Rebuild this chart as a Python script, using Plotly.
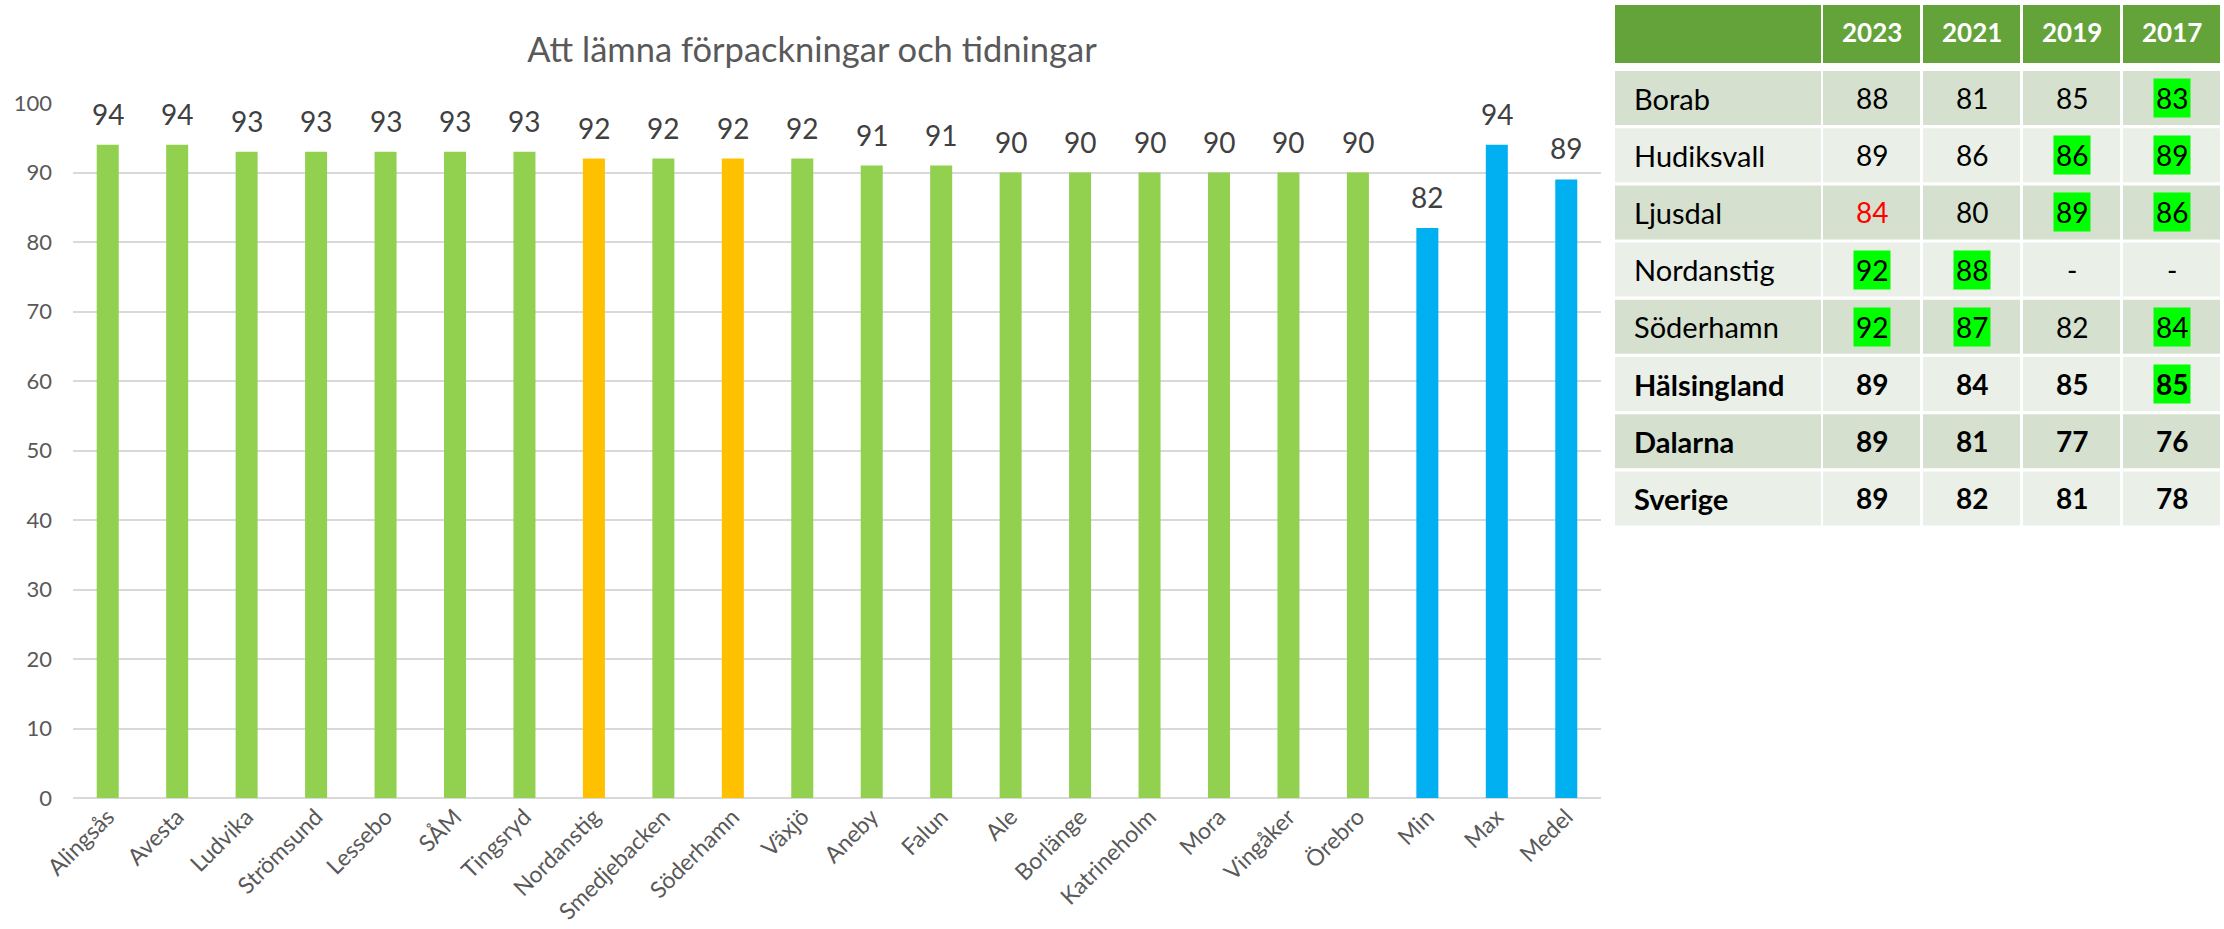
import plotly.graph_objects as go

# ---------------- data ----------------
categories = ["Alingsås", "Avesta", "Ludvika", "Strömsund", "Lessebo", "SÅM", "Tingsryd",
              "Nordanstig", "Smedjebacken", "Söderhamn", "Växjö", "Aneby", "Falun", "Ale",
              "Borlänge", "Katrineholm", "Mora", "Vingåker", "Örebro", "Min", "Max", "Medel"]
values = [94, 94, 93, 93, 93, 93, 93, 92, 92, 92, 92, 91, 91, 90, 90, 90, 90, 90, 90, 82, 94, 89]
groups = ["kommun"] * 7 + ["halsingland", "kommun", "halsingland"] + ["kommun"] * 9 + ["stat"] * 3

title_text = "Att lämna förpackningar och tidningar"

table_years = ["2023", "2021", "2019", "2017"]
table_rows = ["Borab", "Hudiksvall", "Ljusdal", "Nordanstig", "Söderhamn",
              "Hälsingland", "Dalarna", "Sverige"]
col_2023 = ["88", "89", "84", "92", "92", "89", "89", "89"]
col_2021 = ["81", "86", "80", "88", "87", "84", "81", "82"]
col_2019 = ["85", "86", "89", "-", "82", "85", "77", "81"]
col_2017 = ["83", "89", "86", "-", "84", "85", "76", "78"]
table_cols = [col_2023, col_2021, col_2019, col_2017]
# highlighted cells (row, col)
highlight = [(0, 3), (1, 2), (1, 3), (2, 2), (2, 3), (3, 0), (3, 1), (4, 0), (4, 1), (4, 3), (5, 3)]
red_cells = [(2, 0)]
bold_rows = ["Hälsingland", "Dalarna", "Sverige"]

# ---------------- style ----------------
W, H = 2224, 929
L, R, T, B = 73, 2224 - 1601, 103, 929 - 798
PW, PH = W - L - R, H - T - B
FONT = "Lato"
color_map = {"kommun": "#92D050", "halsingland": "#FFC000", "stat": "#00B0F0"}


def px(x):
    return (x - L) / PW


def py(y):
    return 1 - (y - T) / PH


fig = go.Figure()
fig.add_trace(go.Bar(
    x=categories, y=values,
    marker=dict(color=[color_map[g] for g in groups], line=dict(width=0)),
    hoverinfo="x+y",
))

annotations = []
for c, v in zip(categories, values):
    annotations.append(dict(x=c, y=v, xref="x", yref="y", text=str(v), showarrow=False,
                            yanchor="middle", yshift=31,
                            font=dict(family=FONT, size=28, color="#404040")))

# ---------------- table ----------------
shapes = []
label_x0, label_x1 = 1615, 1821
col_x0 = [1823, 1923, 2023, 2123]
col_w = 97
head_y0, head_y1 = 5, 63
row_y0, row_pitch, row_h = 71, 57.2, 54
header_color = "#64A33A"
band_dark, band_light = "#D5E0CE", "#EAEFE8"


def rect(x0, y0, x1, y1, color):
    shapes.append(dict(type="rect", xref="paper", yref="paper",
                       x0=px(x0), x1=px(x1), y0=py(y1), y1=py(y0),
                       fillcolor=color, line=dict(width=0), layer="below"))


rect(label_x0, head_y0, label_x1, head_y1, header_color)
for j, yr in enumerate(table_years):
    rect(col_x0[j], head_y0, col_x0[j] + col_w, head_y1, header_color)
    annotations.append(dict(x=px(col_x0[j] + col_w / 2), y=py((head_y0 + head_y1) / 2 - 2),
                            xref="paper", yref="paper", text="<b>%s</b>" % yr, showarrow=False,
                            xanchor="center", yanchor="middle",
                            font=dict(family=FONT, size=26, color="white")))

for i, name in enumerate(table_rows):
    y0 = row_y0 + i * row_pitch
    y1 = y0 + row_h
    yc = (y0 + y1) / 2
    fill = band_dark if i % 2 == 0 else band_light
    bold = name in bold_rows
    rect(label_x0, y0, label_x1, y1, fill)
    annotations.append(dict(x=px(1632), y=py(yc), xref="paper", yref="paper",
                            text=("<b>%s</b>" % name) if bold else name, showarrow=False,
                            xanchor="left", yanchor="middle",
                            font=dict(family=FONT, size=29, color="black")))
    for j in range(4):
        rect(col_x0[j], y0, col_x0[j] + col_w, y1, fill)
        val = table_cols[j][i]
        hl = (i, j) in highlight
        col = "#FF0000" if (i, j) in red_cells else "black"
        annotations.append(dict(x=px(col_x0[j] + col_w / 2), y=py(yc), xref="paper", yref="paper",
                                text=("<b>%s</b>" % val) if bold else val, showarrow=False,
                                xanchor="center", yanchor="middle",
                                bgcolor="#00FF00" if hl else None, borderpad=2,
                                font=dict(family=FONT, size=28, color=col)))

fig.update_layout(
    width=W, height=H,
    margin=dict(l=L, r=R, t=T, b=B, pad=0, autoexpand=False),
    paper_bgcolor="white", plot_bgcolor="white",
    bargap=0.683,
    showlegend=False,
    title=dict(text=title_text, x=812 / W, xanchor="center", xref="container",
               y=1 - 50 / H, yanchor="middle",
               font=dict(family=FONT, size=34.5, color="#595959")),
    xaxis=dict(tickangle=-45, tickfont=dict(family=FONT, size=23, color="#595959"),
               showgrid=False, ticks="", showline=False, zeroline=False, automargin=False),
    yaxis=dict(range=[0, 100], dtick=10, tickfont=dict(family=FONT, size=22, color="#595959"),
               showgrid=True, gridcolor="#D9D9D9", gridwidth=1.6,
               zeroline=True, zerolinecolor="#D9D9D9", zerolinewidth=2,
               ticks="", ticklabelstandoff=20, showline=False, automargin=False),
    shapes=shapes,
    annotations=annotations,
)

fig.write_html("out.html", config={"displayModeBar": False},
               post_script="document.body.style.margin='0';document.body.style.overflow='hidden';")
